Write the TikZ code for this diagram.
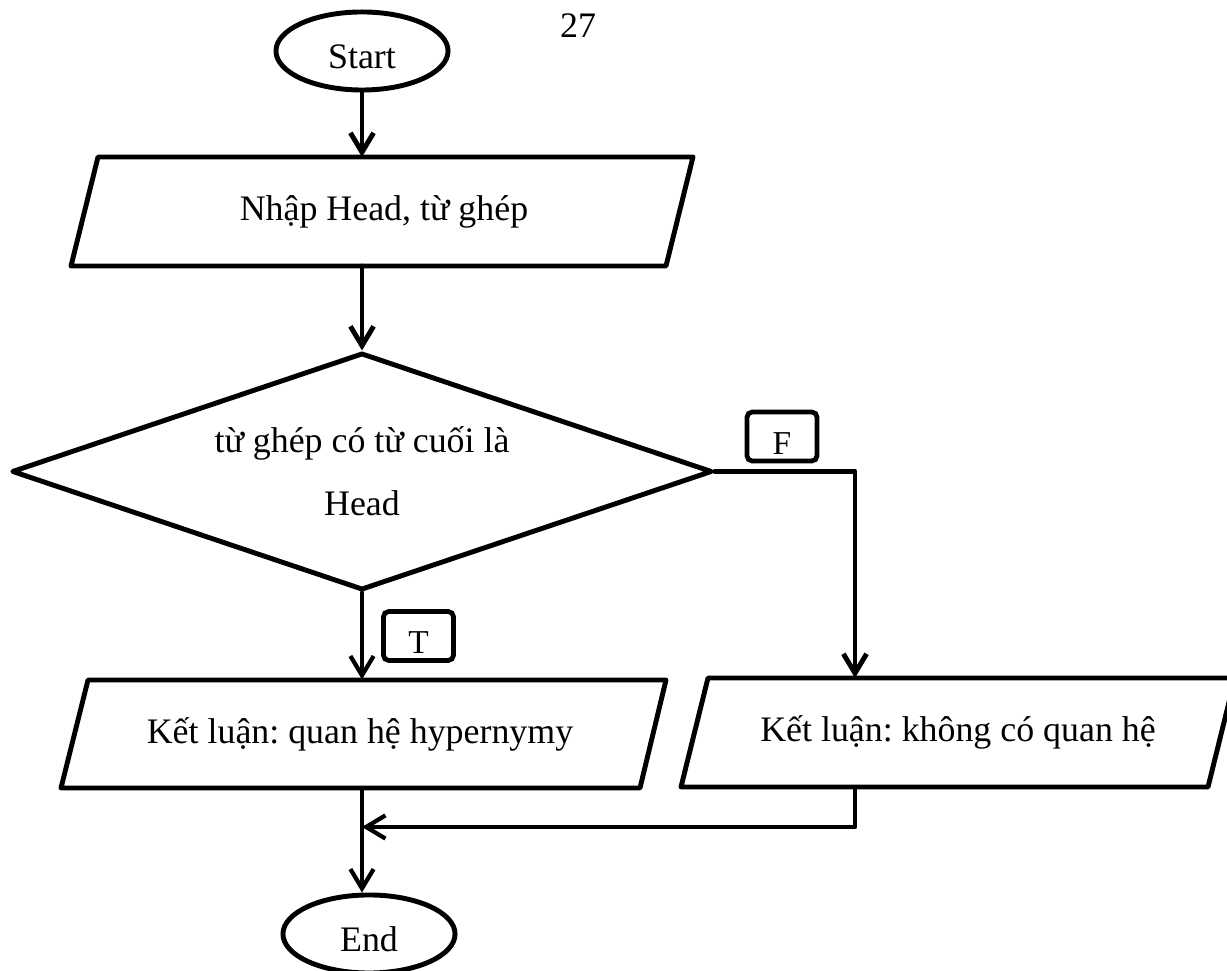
\documentclass[tikz,border=0pt]{standalone}
\usepackage{fontspec}
\setmainfont{Liberation Serif}
\frenchspacing
\usetikzlibrary{shapes.geometric,arrows.meta}
\begin{document}
\begin{tikzpicture}[x=0.01cm,y=-0.01cm,
  every node/.style={font=\fontsize{10.2}{12.2}\selectfont},
  outline/.style={draw=black,line width=1.4pt,line join=round,line cap=round},
  terminal/.style={outline,ellipse,minimum width=1.72cm,minimum height=0.78cm,
    inner sep=0pt,text height=10.2pt,text depth=0pt},
  decision/.style={outline,diamond,aspect=2.954,minimum width=7cm,minimum height=2.37cm,
    inner sep=0pt,align=center},
  iotext/.style={minimum height=1.09cm,inner sep=0pt,outer sep=0pt},
  tag/.style={draw=black,line width=1.35pt,rounded corners=1.5pt,
    minimum width=0.70cm,minimum height=0.49cm,inner sep=0pt,
    font=\fontsize{9.5}{10.5}\selectfont,text height=10pt,text depth=0pt},
  flow/.style={line width=1.2pt,line cap=round,line join=round,
    -{Straight Barb[length=5.5pt,width=6.6pt]}},
  mainflow/.style={flow,line width=1.4pt},
]
\useasboundingbox (0,0) rectangle (1227,971);
\clip (0,0) rectangle (1227,971);

% page number
\node (page) at (578,26) {27};

% terminals
\node[terminal] (start) at (362,51) {Start};
\node[terminal] (endn) at (369,934) {End};

% input block
\draw[outline] (98,157) -- (693,157) -- (666,266) -- (71,266) -- cycle;
\node[iotext] (p1) at (384,211.5) {Nhập Head, từ ghép};

% decision
\node[decision] (dec) at (362,471.5) {từ ghép có từ cuối là\\[5.6pt]Head};

% output blocks
\draw[outline] (88,680) -- (666,680) -- (640,788) -- (61,788) -- cycle;
\node[iotext] (p2) at (360,734) {Kết luận: quan hệ hypernymy};
\draw[outline] (708,678) -- (1235,678) -- (1208,787) -- (681,787) -- cycle;
\node[iotext] (p3) at (958,732.5) {Kết luận: không có quan hệ};

% branch tags
\node[tag] (ftag) at (782,436.5) {F};
\node[tag] (ttag) at (418.5,636) {T};

% helper points for the routing
\coordinate (fx) at (855,787);
\coordinate (merge) at (362,827);

% connectors
\draw[mainflow] (start.south) -- (start.south |- p1.north);
\draw[mainflow] (dec.north |- p1.south) -- (dec.north);
\draw[mainflow] (dec.east) -| (fx |- p3.north);
\draw[flow] (dec.south) -- (dec.south |- p2.north);
\draw[flow] (fx |- p3.south) |- (merge);
\draw[flow] (dec.south |- p2.south) -- (dec.south |- endn.north);
\end{tikzpicture}
\end{document}
